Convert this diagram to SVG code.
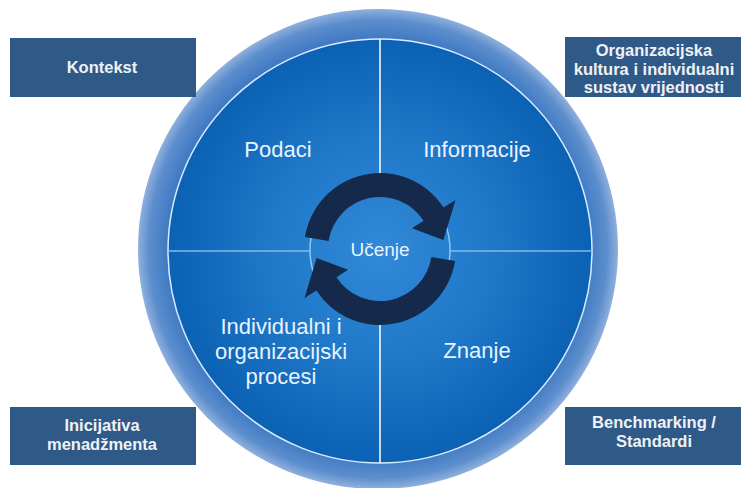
<svg xmlns="http://www.w3.org/2000/svg" width="743" height="488" viewBox="0 0 743 488">
  <defs>
    <radialGradient id="ringGrad" gradientUnits="userSpaceOnUse" cx="378" cy="249" r="241">
      <stop offset="0" stop-color="#2b6cb9"/>
      <stop offset="0.86" stop-color="#3a76c1"/>
      <stop offset="0.95" stop-color="#5c8ecd"/>
      <stop offset="1" stop-color="#94b3de"/>
    </radialGradient>
    <radialGradient id="coreGrad" gradientUnits="userSpaceOnUse" cx="380" cy="251" r="212">
      <stop offset="0" stop-color="#3189d7"/>
      <stop offset="0.55" stop-color="#1f77c8"/>
      <stop offset="1" stop-color="#0b61b3"/>
    </radialGradient>
    <style>
      .box { fill: #2f5987; }
      .boxText { font-family: "Liberation Sans", Arial, sans-serif; font-weight: bold; font-size: 16.5px; fill: #eef2f7; text-anchor: middle; }
      .quadText { font-family: "Liberation Sans", Arial, sans-serif; font-size: 22px; fill: #e8f3ff; text-anchor: middle; }
      .arrow { fill: #15294b; }
    </style>
  </defs>

  <rect width="743" height="488" fill="#ffffff"/>

  <g id="wheel">
    <circle cx="378" cy="249" r="240" fill="url(#ringGrad)"/>
    <circle cx="380" cy="251" r="212" fill="url(#coreGrad)" stroke="#d8ecff" stroke-width="1.5"/>
  </g>

  <g id="connectors">
    <line x1="380" y1="39" x2="380" y2="180" stroke="#ffffff" stroke-width="1.5"/>
    <line x1="380" y1="320" x2="380" y2="463" stroke="#ffffff" stroke-width="1.5"/>
    <line x1="169" y1="251" x2="310" y2="251" stroke="#7fbaea" stroke-width="1.5"/>
    <line x1="450" y1="251" x2="592" y2="251" stroke="#7fbaea" stroke-width="1.5"/>
    <circle cx="380" cy="250" r="70" fill="none" stroke="#8cc8f2" stroke-width="1.5"/>
  </g>

  <g id="learning-cycle">
    <path class="arrow" d="M304.9,237.1 A76,76 0 0 1 443.7,207.6 L455.5,200.0 L443.4,240.1 L411.9,228.3 L423.6,220.7 A52,52 0 0 0 328.6,240.9 Z"/>
    <path class="arrow" transform="rotate(180 380 249)" d="M304.9,237.1 A76,76 0 0 1 443.7,207.6 L455.5,200.0 L443.4,240.1 L411.9,228.3 L423.6,220.7 A52,52 0 0 0 328.6,240.9 Z"/>
    <text x="380" y="256" font-family="'Liberation Sans', Arial, sans-serif" font-size="19" fill="#e8f3ff" text-anchor="middle">Učenje</text>
  </g>

  <g id="q-podaci"><text class="quadText" x="278" y="157">Podaci</text></g>
  <g id="q-informacije"><text class="quadText" x="477" y="157">Informacije</text></g>
  <g id="q-znanje"><text class="quadText" x="477" y="358">Znanje</text></g>
  <g id="q-procesi">
    <text class="quadText" x="281" y="334">Individualni i</text>
    <text class="quadText" x="281" y="359">organizacijski</text>
    <text class="quadText" x="281" y="384">procesi</text>
  </g>

  <g id="box-kontekst">
    <rect class="box" x="10" y="38" width="186" height="59"/>
    <text class="boxText" x="102" y="73">Kontekst</text>
  </g>
  <g id="box-kultura">
    <rect class="box" x="565" y="37" width="176" height="60"/>
    <text class="boxText" x="654" y="56">Organizacijska</text>
    <text class="boxText" x="654" y="75">kultura i individualni</text>
    <text class="boxText" x="654" y="93">sustav vrijednosti</text>
  </g>
  <g id="box-inicijativa">
    <rect class="box" x="10" y="407" width="186" height="58"/>
    <text class="boxText" x="102" y="431">Inicijativa</text>
    <text class="boxText" x="102" y="450">menadžmenta</text>
  </g>
  <g id="box-benchmarking">
    <rect class="box" x="565" y="407" width="176" height="58"/>
    <text class="boxText" x="654" y="428">Benchmarking /</text>
    <text class="boxText" x="654" y="447">Standardi</text>
  </g>
</svg>
